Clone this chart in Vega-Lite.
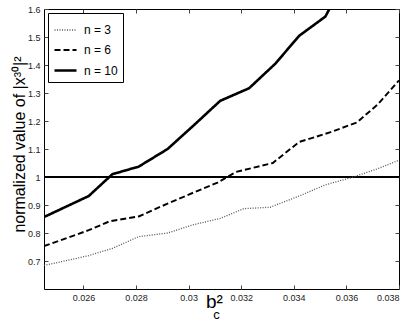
{
  "$schema": "https://vega.github.io/schema/vega-lite/v6.json",
  "width": 355,
  "height": 280,
  "autosize": "none",
  "padding": {"left": 44, "top": 9, "right": 16, "bottom": 36},
  "background": "white",
  "config": {
    "view": {"stroke": "black", "strokeWidth": 1},
    "font": "Liberation Sans",
    "axis": {"grid": false, "labelFont": "Liberation Sans", "labelFontSize": 9, "labelColor": "#222", "domain": false, "tickColor": "#444", "tickSize": -4, "labelPadding": 8, "titleFont": "Liberation Sans", "titleFontWeight": "normal", "titleColor": "black"},
    "legend": {"orient": "top-left", "offset": 4, "strokeColor": "black", "fillColor": "white", "padding": 5, "labelFont": "Liberation Sans", "labelFontSize": 12, "labelColor": "black", "symbolType": "stroke", "symbolSize": 484, "labelOffset": 6, "rowPadding": 2, "symbolStrokeColor": "black"}
  },
  "title": {"text": "c", "orient": "bottom", "fontSize": 13, "fontWeight": "normal", "font": "Liberation Sans", "dx": -5, "dy": 6, "offset": -8},
  "datasets": {
    "lines": [
      {"n": "n = 3", "x": 0.0245, "y": 0.684},
      {"n": "n = 3", "x": 0.0262, "y": 0.719},
      {"n": "n = 3", "x": 0.0271, "y": 0.745},
      {"n": "n = 3", "x": 0.0281, "y": 0.787},
      {"n": "n = 3", "x": 0.0292, "y": 0.800},
      {"n": "n = 3", "x": 0.0302, "y": 0.830},
      {"n": "n = 3", "x": 0.0312, "y": 0.852},
      {"n": "n = 3", "x": 0.0321, "y": 0.887},
      {"n": "n = 3", "x": 0.0331, "y": 0.892},
      {"n": "n = 3", "x": 0.0342, "y": 0.932},
      {"n": "n = 3", "x": 0.0352, "y": 0.972},
      {"n": "n = 3", "x": 0.0362, "y": 0.998},
      {"n": "n = 3", "x": 0.0372, "y": 1.030},
      {"n": "n = 3", "x": 0.0380, "y": 1.060},
      {"n": "n = 6", "x": 0.0245, "y": 0.753},
      {"n": "n = 6", "x": 0.0262, "y": 0.810},
      {"n": "n = 6", "x": 0.0270, "y": 0.842},
      {"n": "n = 6", "x": 0.0281, "y": 0.859},
      {"n": "n = 6", "x": 0.0292, "y": 0.905},
      {"n": "n = 6", "x": 0.0302, "y": 0.945},
      {"n": "n = 6", "x": 0.0311, "y": 0.980},
      {"n": "n = 6", "x": 0.0318, "y": 1.018},
      {"n": "n = 6", "x": 0.0332, "y": 1.050},
      {"n": "n = 6", "x": 0.0342, "y": 1.125},
      {"n": "n = 6", "x": 0.0354, "y": 1.160},
      {"n": "n = 6", "x": 0.0364, "y": 1.195},
      {"n": "n = 6", "x": 0.0372, "y": 1.260},
      {"n": "n = 6", "x": 0.0380, "y": 1.345},
      {"n": "n = 10", "x": 0.0245, "y": 0.857},
      {"n": "n = 10", "x": 0.0262, "y": 0.932},
      {"n": "n = 10", "x": 0.0271, "y": 1.010},
      {"n": "n = 10", "x": 0.0281, "y": 1.037},
      {"n": "n = 10", "x": 0.0292, "y": 1.100},
      {"n": "n = 10", "x": 0.0302, "y": 1.185},
      {"n": "n = 10", "x": 0.0312, "y": 1.272},
      {"n": "n = 10", "x": 0.0323, "y": 1.317},
      {"n": "n = 10", "x": 0.0333, "y": 1.405},
      {"n": "n = 10", "x": 0.0342, "y": 1.504},
      {"n": "n = 10", "x": 0.0352, "y": 1.573},
      {"n": "n = 10", "x": 0.0362, "y": 1.750}
    ],
    "ref": [{"x1": 0.0245, "x2": 0.038, "y": 1}]
  },
  "layer": [
    {
      "data": {"name": "ref"},
      "mark": {"type": "rule", "color": "black", "strokeWidth": 2},
      "encoding": {
        "x": {"field": "x1", "type": "quantitative", "scale": {"domain": [0.0245, 0.038], "nice": false, "zero": false}, "axis": null},
        "x2": {"field": "x2"},
        "y": {"field": "y", "type": "quantitative", "scale": {"domain": [0.6, 1.6], "nice": false, "zero": false}, "axis": null}
      }
    },
    {
      "data": {"name": "lines"},
      "transform": [{"filter": "datum.n != 'n = 10'"}],
      "mark": {"type": "line", "clip": true},
      "encoding": {
        "x": {"field": "x", "type": "quantitative", "scale": {"domain": [0.0245, 0.038], "nice": false, "zero": false},
              "axis": {"orient": "bottom", "values": [0.026, 0.028, 0.03, 0.032, 0.034, 0.036, 0.038], "format": "~g", "title": "b²", "titleFontSize": 19, "titleX": 170, "titleY": 18, "titleBaseline": "alphabetic"}},
        "y": {"field": "y", "type": "quantitative", "scale": {"domain": [0.6, 1.6], "nice": false, "zero": false},
              "axis": {"orient": "left", "values": [0.7, 0.8, 0.9, 1, 1.1, 1.2, 1.3, 1.4, 1.5, 1.6], "format": "~g", "title": "normalized value of |x³⁰|²", "titleFontSize": 16, "titleX": -20, "titleY": 135, "titleBaseline": "alphabetic"}},
        "color": {"field": "n", "type": "nominal", "scale": {"domain": ["n = 3", "n = 6", "n = 10"], "range": ["#555555", "black", "black"]}, "legend": {"title": null}},
        "strokeDash": {"field": "n", "type": "nominal", "scale": {"domain": ["n = 3", "n = 6", "n = 10"], "range": [[1, 1.5], [6, 3], [1, 0]]}, "legend": {"title": null}},
        "strokeWidth": {"field": "n", "type": "nominal", "scale": {"domain": ["n = 3", "n = 6", "n = 10"], "range": [1.3, 2.6, 2]}, "legend": {"title": null}}
      }
    },
    {
      "data": {"name": "lines"},
      "transform": [{"filter": "datum.n == 'n = 10'"}],
      "mark": {"type": "line", "clip": true},
      "encoding": {
        "x": {"field": "x", "type": "quantitative", "scale": {"domain": [0.0245, 0.038], "nice": false, "zero": false},
              "axis": {"orient": "top", "values": [0.026, 0.028, 0.03, 0.032, 0.034, 0.036, 0.038], "labels": false, "title": null}},
        "y": {"field": "y", "type": "quantitative", "scale": {"domain": [0.6, 1.6], "nice": false, "zero": false},
              "axis": {"orient": "right", "values": [0.7, 0.8, 0.9, 1, 1.1, 1.2, 1.3, 1.4, 1.5, 1.6], "labels": false, "title": null}},
        "color": {"field": "n", "type": "nominal", "scale": {"domain": ["n = 3", "n = 6", "n = 10"], "range": ["#555555", "black", "black"]}, "legend": {"title": null}},
        "strokeDash": {"field": "n", "type": "nominal", "scale": {"domain": ["n = 3", "n = 6", "n = 10"], "range": [[1, 1.5], [6, 3], [1, 0]]}, "legend": {"title": null}},
        "strokeWidth": {"field": "n", "type": "nominal", "scale": {"domain": ["n = 3", "n = 6", "n = 10"], "range": [1.3, 2.6, 2]}, "legend": {"title": null}}
      }
    }
  ],
  "resolve": {"scale": {"x": "independent", "y": "independent"}, "axis": {"x": "independent", "y": "independent"}}
}
